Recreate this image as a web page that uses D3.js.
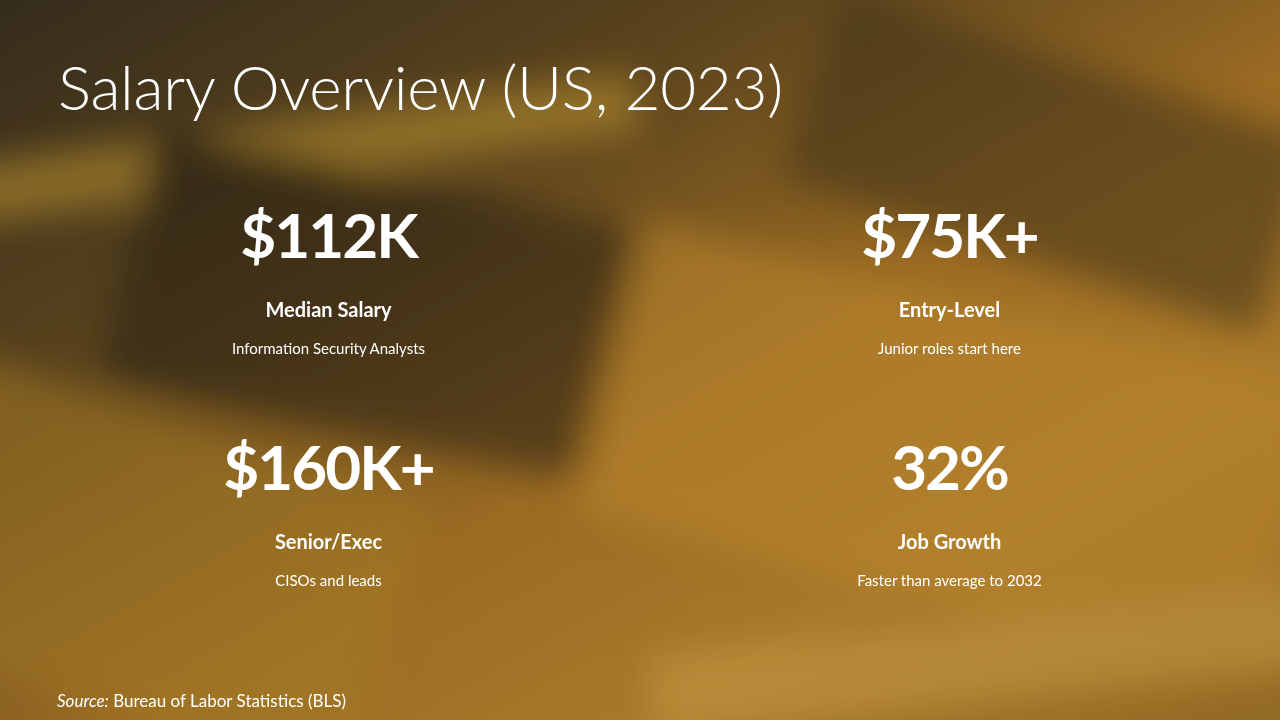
<!DOCTYPE html>
<html><head><meta charset="utf-8">
<script src="https://cdn.jsdelivr.net/npm/d3@7"></script>
<style>body{margin:0;overflow:hidden}</style>
</head><body>
<script>
const values = ["$112K", "$75K+", "$160K+", "32%"];
const labels = ["Median Salary", "Entry-Level", "Senior/Exec", "Job Growth"];
const descs = ["Information Security Analysts", "Junior roles start here", "CISOs and leads", "Faster than average to 2032"];
const title = "Salary Overview (US, 2023)";

const W = 1280, H = 720;
const svg = d3.select("body").append("svg").attr("width", W).attr("height", H);
const defs = svg.append("defs");
const g1 = defs.append("linearGradient").attr("id","bg").attr("x1","0").attr("y1","0").attr("x2","1").attr("y2","1");
[["0%","#3d3320"],["30%","#6a4f22"],["55%","#b07a28"],["75%","#c08a30"],["100%","#a87a2a"]].forEach(([o,c])=>g1.append("stop").attr("offset",o).attr("stop-color",c));
defs.append("filter").attr("id","blur").append("feGaussianBlur").attr("stdDeviation",18);
svg.append("rect").attr("width",W).attr("height",H).attr("fill","url(#bg)");
const deco = svg.append("g").attr("filter","url(#blur)").attr("opacity",0.55);
[[-60,120,700,60,"#d6a838",-8],[120,180,560,260,"#2e2716",12],[600,300,700,300,"#d49a34",14],[800,60,500,200,"#4a3a1c",18],[-100,420,500,300,"#b98a2c",18],[650,620,700,80,"#e0b050",-6]].forEach(([x,y,w,h,c,r])=>
  deco.append("rect").attr("x",x).attr("y",y).attr("width",w).attr("height",h).attr("fill",c).attr("transform",`rotate(${r},${x+w/2},${y+h/2})`));
svg.append("rect").attr("width",W).attr("height",H).attr("fill","rgba(0,0,0,0.12)");

const font = "Lato, 'Open Sans', sans-serif";
svg.append("text").attr("x",58).attr("y",110).attr("fill","#fff").attr("font-family",font)
  .attr("font-weight",300).attr("font-size",62).attr("letter-spacing",-0.3).text(title);

const x = d3.scaleBand().domain([0,1]).range([18,1260]);
const y = d3.scaleBand().domain([0,1]).range([200,664]);
values.forEach((v,i)=>{
  const cx = x(i%2)+x.bandwidth()/2, top = y(Math.floor(i/2));
  const g = svg.append("g").attr("fill","#fff").attr("font-family",font).attr("text-anchor","middle");
  g.append("text").attr("x",cx).attr("y",top+58).attr("font-size",62).attr("font-weight",700).attr("letter-spacing",-2).text(v);
  g.append("text").attr("x",cx).attr("y",top+117).attr("font-size",20).attr("font-weight",700).text(labels[i]);
  g.append("text").attr("x",cx).attr("y",top+154).attr("font-size",15).attr("font-weight",400).text(descs[i]);
});
const s = svg.append("text").attr("x",57).attr("y",707).attr("fill","#fff").attr("font-family",font).attr("font-size",17);
s.append("tspan").attr("font-style","italic").text("Source:");
s.append("tspan").text(" Bureau of Labor Statistics (BLS)");
</script>
</body></html>
